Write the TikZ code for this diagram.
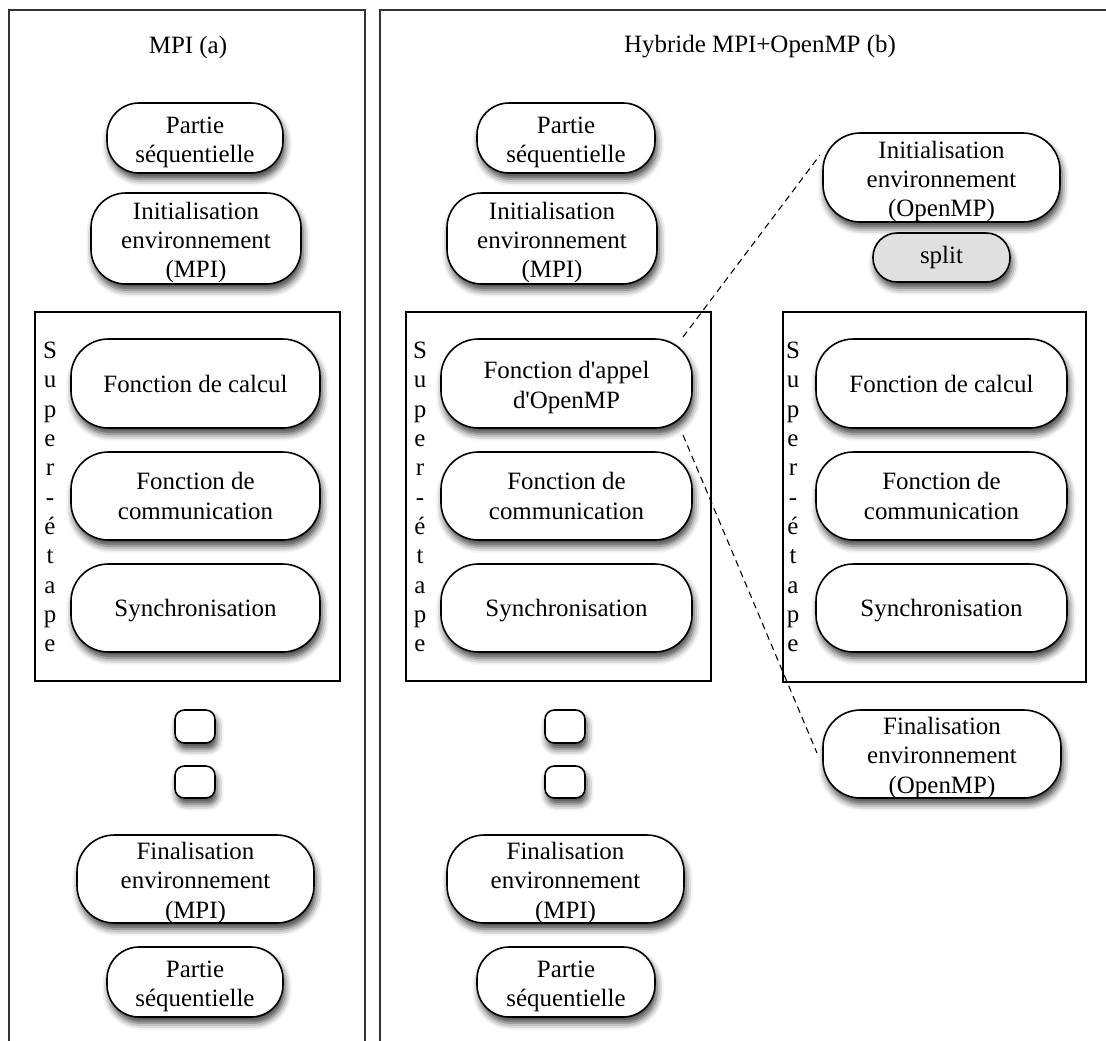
\documentclass[tikz,border=0pt]{standalone}
\usepackage{fontspec}
\setmainfont{Liberation Serif}
\usetikzlibrary{shadows.blur}
\newcommand\dntext[2][3pt]{\raisebox{-#1}[\height][\depth]{\begin{tabular}{@{}c@{}}#2\end{tabular}}}
\begin{document}
\begin{tikzpicture}[x=0.75pt,y=-0.75pt,
  every node/.style={font=\fontsize{18.7}{22}\selectfont},
  pill/.style={draw=black, line width=1.2pt, fill=white, align=center, inner sep=0pt,
    rounded corners=#1,
    blur shadow={shadow xshift=1.5pt, shadow yshift=-4.5pt, shadow blur radius=5pt, shadow opacity=75}},
  pill/.default=26pt,
  sz/.style 2 args={minimum width=#1*0.75pt, minimum height=#2*0.75pt},
  panel/.style={draw=black!80, line width=1.1pt},
  sbox/.style={draw=black, line width=0.8pt},
  letters/.style={align=center, inner sep=0pt},
  dashline/.style={draw=black, line width=0.8pt, dash pattern=on 5pt off 3.5pt},
  graypill/.style={fill=black!12}
]
\useasboundingbox (0,0) rectangle (1106,1040);
\clip (0,0) rectangle (1106,1040);

% panels
\draw[panel] (9,1060) -- (9,10) -- (365,10) -- (365,1060);
\draw[panel] (380,1060) -- (380,10) -- (1120,10);

\node (ta) at (188,47) {MPI (a)};
\node (tb) at (760,47) {Hybride MPI+OpenMP (b)};

% ---------- (a)
\node[pill=24pt, sz={176}{70}] (pa1) at (195,138) {\dntext{Partie\\séquentielle}};
\node[pill, sz={210}{91}] (ia) at (196,238.5) {\dntext{Initialisation\\environnement\\(MPI)}};
\draw[sbox] (35,312) rectangle (340,681);
\node[letters] (la) at (50,497) {S\\u\\p\\e\\r\\-\\é\\t\\a\\p\\e};
\node[pill=28pt, sz={249}{89}] (fa1) at (195.5,383.5) {Fonction de calcul};
\node[pill=28pt, sz={249}{88}] (fa2) at (195.5,496) {\dntext[2pt]{Fonction de\\communication}};
\node[pill=28pt, sz={249}{88}] (fa3) at (195.5,608) {\dntext[2pt]{Synchronisation}};
\node[pill=7pt, sz={40}{33}] (sa1) at (195,726.5) {};
\node[pill=7pt, sz={40}{32}] (sa2) at (195,782) {};
\node[pill=28pt, sz={237}{88}] (fina) at (195.5,879) {\dntext{Finalisation\\environnement\\(MPI)}};
\node[pill=24pt, sz={176}{70}] (pa2) at (195,982) {\dntext{Partie\\séquentielle}};

% ---------- (b)
\node[pill=24pt, sz={178}{70}] (pb1) at (566,138) {\dntext{Partie\\séquentielle}};
\node[pill, sz={210}{91}] (ib) at (552,238.5) {\dntext{Initialisation\\environnement\\(MPI)}};
\draw[sbox] (406,312) rectangle (711,681);
\node[letters] (lb) at (420,497) {S\\u\\p\\e\\r\\-\\é\\t\\a\\p\\e};
\node[pill=28pt, sz={251}{89}] (fb1) at (566.5,383.5) {\dntext{Fonction d\textquotesingle appel\\d\textquotesingle OpenMP}};
\node[pill=28pt, sz={251}{88}] (fb2) at (566.5,496) {\dntext[2pt]{Fonction de\\communication}};
\node[pill=28pt, sz={251}{88}] (fb3) at (566.5,608) {\dntext[2pt]{Synchronisation}};
\node[pill=7pt, sz={40}{33}] (sb1) at (565,726.5) {};
\node[pill=7pt, sz={40}{32}] (sb2) at (565,782) {};
\node[pill=28pt, sz={237}{88}] (finb) at (565.5,879) {\dntext{Finalisation\\environnement\\(MPI)}};
\node[pill=24pt, sz={178}{70}] (pb2) at (566,982) {\dntext{Partie\\séquentielle}};

% ---------- (b) right column
\node[pill=28pt, sz={237}{89}] (io) at (941.5,177.5) {\dntext{Initialisation\\environnement\\(OpenMP)}};
\node[pill=18pt, graypill, sz={137}{49}] (split) at (941.5,257.5) {split};
\draw[sbox] (783,312) rectangle (1086,682);
\node[letters] (lc) at (793,497) {S\\u\\p\\e\\r\\-\\é\\t\\a\\p\\e};
\node[pill=28pt, sz={251}{89}] (fc1) at (941.5,383.5) {Fonction de calcul};
\node[pill=28pt, sz={251}{88}] (fc2) at (941.5,496) {\dntext[2pt]{Fonction de\\communication}};
\node[pill=28pt, sz={251}{88}] (fc3) at (941.5,608) {\dntext[2pt]{Synchronisation}};
\node[pill=28pt, sz={238}{88}] (fo) at (942,754) {\dntext{Finalisation\\environnement\\(OpenMP)}};

% dashed connectors
\coordinate (d1s) at (683,337);
\coordinate (d1e) at (820,155);
\coordinate (d2s) at (683,435);
\coordinate (d2e) at (817,753);
\draw[dashline] (d1s) -- (d1e);
\draw[dashline] (d2s) -- (d2e);
\end{tikzpicture}
\end{document}
